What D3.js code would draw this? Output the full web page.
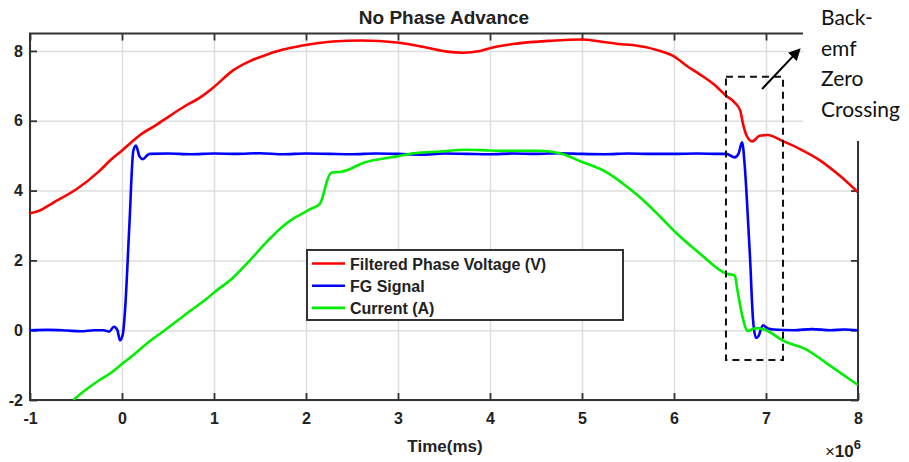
<!DOCTYPE html>
<html>
<head>
<meta charset="utf-8">
<script src="https://cdn.jsdelivr.net/npm/d3@7"></script>
<style>
  body { margin: 0; background: #fff; }
  svg { display: block; font-family: "Liberation Sans", Arial, sans-serif; }
</style>
</head>
<body>
<svg id="chart" width="909" height="462"></svg>
<script>
// ---------------- data (time in units of 10^6 ms) ----------------
const xTicks = [-1, 0, 1, 2, 3, 4, 5, 6, 7, 8]
const yTicks = [-2, 0, 2, 4, 6, 8]

const seriesNames = ['Filtered Phase Voltage (V)', 'FG Signal', 'Current (A)']
const seriesColors = ['#ff0000', '#0000ff', '#00ee00']

const phaseVoltage = [
  [-1, 3.35], [-0.9, 3.42], [-0.75, 3.65], [-0.5, 4.03], [-0.25, 4.55], [-0.13, 4.86],
  [0, 5.15], [0.1, 5.38], [0.2, 5.6], [0.36, 5.86], [0.52, 6.14], [0.66, 6.38],
  [0.85, 6.67], [1.0, 6.97], [1.2, 7.43], [1.39, 7.71], [1.58, 7.9], [1.75, 8.04],
  [1.93, 8.14], [2.29, 8.27], [2.6, 8.3], [2.99, 8.24], [3.31, 8.1], [3.53, 7.98],
  [3.71, 7.95], [3.89, 8.0], [4.03, 8.1], [4.29, 8.21], [4.65, 8.29], [5.0, 8.33],
  [5.2, 8.27], [5.39, 8.2], [5.55, 8.17], [5.85, 8.0], [5.99, 7.86], [6.14, 7.57],
  [6.28, 7.33], [6.43, 7.05], [6.57, 6.71], [6.66, 6.52], [6.72, 6.29], [6.75, 5.91],
  [6.79, 5.57], [6.85, 5.41], [6.93, 5.57], [7.02, 5.59], [7.17, 5.43], [7.37, 5.19],
  [7.59, 4.86], [7.8, 4.43], [8.0, 3.95]
]

const fgSignal = [
  [-1, 0], [-0.8, 0.01], [-0.6, -0.01], [-0.45, -0.03], [-0.3, 0.0], [-0.2, 0.0],
  [-0.14, -0.04], [-0.087, 0.1], [-0.05, 0.0], [-0.022, -0.29], [0.01, -0.1],
  [0.033, 0.57], [0.08, 3.0], [0.123, 5.14], [0.152, 5.29], [0.19, 4.98], [0.228, 4.9],
  [0.27, 5.0], [0.3, 5.05], [0.5, 5.06], [0.75, 5.04], [1, 5.06], [1.25, 5.05],
  [1.5, 5.07], [1.75, 5.04], [2, 5.06], [2.25, 5.05], [2.5, 5.04], [2.75, 5.06],
  [3, 5.05], [3.25, 5.03], [3.5, 5.06], [3.75, 5.05], [4, 5.04], [4.25, 5.06],
  [4.5, 5.05], [4.75, 5.07], [5, 5.05], [5.25, 5.04], [5.5, 5.06], [5.75, 5.05],
  [6, 5.05], [6.25, 5.06], [6.5, 5.05], [6.57, 5.05], [6.66, 4.95], [6.7, 5.05],
  [6.74, 5.38], [6.772, 4.6], [6.793, 3.7], [6.826, 2.1], [6.859, 0.3], [6.891, -0.22],
  [6.915, -0.18], [6.967, 0.14], [7.02, 0.05], [7.08, 0.02], [7.3, 0.0], [7.5, 0.03],
  [7.7, 0.0], [7.85, 0.02], [8, 0.0]
]

const current = [
  [-0.53, -2.0], [-0.4, -1.72], [-0.24, -1.42], [-0.13, -1.24], [0, -0.97], [0.12, -0.72],
  [0.27, -0.38], [0.44, -0.05], [0.6, 0.27], [0.74, 0.55], [0.92, 0.9], [1.0, 1.08],
  [1.2, 1.49], [1.39, 2.0], [1.58, 2.55], [1.75, 2.98], [1.83, 3.14], [1.93, 3.3],
  [2.04, 3.46], [2.15, 3.62], [2.19, 3.9], [2.23, 4.29], [2.28, 4.52], [2.37, 4.53],
  [2.48, 4.62], [2.62, 4.79], [2.8, 4.9], [2.99, 4.98], [3.17, 5.07], [3.46, 5.12],
  [3.75, 5.17], [4.0, 5.15], [4.25, 5.14], [4.51, 5.14], [4.76, 5.07], [4.98, 4.84],
  [5.27, 4.52], [5.45, 4.19], [5.63, 3.81], [5.85, 3.25], [6.03, 2.77], [6.28, 2.2],
  [6.57, 1.62], [6.66, 1.57], [6.69, 1.14], [6.745, 0.38], [6.8, -0.02], [6.89, 0.06],
  [7.0, 0.0], [7.18, -0.29], [7.45, -0.57], [7.66, -0.95], [8.0, -1.57]
]

const series = [phaseVoltage, fgSignal, current]

// dashed box around the zero crossing and the arrow pointing at the note
const zeroBox = { x0: 6.565, x1: 7.185, y0: -0.857, y1: 7.26 }
const arrow = { x0: 6.957, y0: 6.91, x1: 7.359, y1: 8.03 }
const noteLines = ['Back-', 'emf', 'Zero', 'Crossing']

// ---------------- layout ----------------
const plotL = 30, plotR = 858, plotT = 33.5, plotB = 400

const x = d3.scaleLinear().domain([-1, 8]).range([plotL, plotR])
const y = d3.scaleLinear().domain([-2, 8.5]).range([plotB, plotT])

const svg = d3.select('#chart')
const defs = svg.append('defs')

defs.append('clipPath').attr('id', 'plotClip')
  .append('rect')
  .attr('x', plotL).attr('y', plotT)
  .attr('width', plotR - plotL).attr('height', plotB - plotT)

defs.append('marker')
  .attr('id', 'arrowHead')
  .attr('viewBox', '0 0 10 10')
  .attr('refX', 8).attr('refY', 5)
  .attr('markerWidth', 6).attr('markerHeight', 6)
  .attr('markerUnits', 'strokeWidth')
  .attr('orient', 'auto')
  .append('path')
  .attr('d', 'M0,0 L10,5 L0,10 Z')
  .attr('fill', 'black')

//grid
const grid = svg.append('g')
grid.append('g')
  .attr('transform', 'translate(0,' + plotB + ')')
  .call(d3.axisBottom(x).tickValues(xTicks).tickSize(-(plotB - plotT)).tickFormat(''))
grid.append('g')
  .attr('transform', 'translate(' + plotL + ',0)')
  .call(d3.axisLeft(y).tickValues(yTicks).tickSize(-(plotR - plotL)).tickFormat(''))
grid.selectAll('.domain').remove()
grid.selectAll('line').attr('stroke', '#dedede').attr('stroke-width', 1.5)

//axes
const axisStyle = g => {
  g.select('.domain').remove()
  g.selectAll('line').attr('stroke', '#333').attr('stroke-width', 1.8)
  g.selectAll('text')
    .attr('fill', '#222')
    .attr('font-size', 16)
    .attr('font-weight', 'bold')
}
const plain = d => String(d)

svg.append('g')
  .attr('transform', 'translate(0,' + plotB + ')')
  .call(d3.axisBottom(x).tickValues(xTicks).tickSizeInner(-7).tickSizeOuter(0).tickPadding(13).tickFormat(plain))
  .call(axisStyle)

svg.append('g')
  .attr('transform', 'translate(0,' + plotT + ')')
  .call(d3.axisTop(x).tickValues(xTicks).tickSizeInner(-7).tickSizeOuter(0).tickFormat(''))
  .call(axisStyle)

svg.append('g')
  .attr('transform', 'translate(' + plotL + ',0)')
  .call(d3.axisLeft(y).tickValues(yTicks).tickSizeInner(-7).tickSizeOuter(0).tickPadding(7).tickFormat(plain))
  .call(axisStyle)

svg.append('g')
  .attr('transform', 'translate(' + plotR + ',0)')
  .call(d3.axisRight(y).tickValues(yTicks).tickSizeInner(-7).tickSizeOuter(0).tickFormat(''))
  .call(axisStyle)

//frame
svg.append('rect')
  .attr('x', plotL).attr('y', plotT)
  .attr('width', plotR - plotL).attr('height', plotB - plotT)
  .attr('fill', 'none')
  .attr('stroke', '#333')
  .attr('stroke-width', 2)

//lines
const line = d3.line()
  .x(d => x(d[0]))
  .y(d => y(d[1]))
  .curve(d3.curveMonotoneX)

svg.append('g')
  .attr('clip-path', 'url(#plotClip)')
  .selectAll('path')
  .data(series)
  .enter()
  .append('path')
  .attr('d', line)
  .attr('fill', 'none')
  .attr('stroke', (d, i) => seriesColors[i])
  .attr('stroke-width', 2.6)
  .attr('stroke-linejoin', 'round')

//legend
const legend = svg.append('g').attr('transform', 'translate(307,250)')
legend.append('rect')
  .attr('width', 316).attr('height', 70)
  .attr('fill', 'white')
  .attr('stroke', '#333')
  .attr('stroke-width', 2)

const entry = legend.selectAll('g.entry')
  .data(seriesNames)
  .enter()
  .append('g')
  .attr('class', 'entry')
  .attr('transform', (d, i) => 'translate(0,' + (13.5 + i * 22.2) + ')')

entry.append('line')
  .attr('x1', 5).attr('x2', 38)
  .attr('stroke', (d, i) => seriesColors[i])
  .attr('stroke-width', 2.6)

entry.append('text')
  .attr('x', 43).attr('y', 6)
  .attr('font-size', 16)
  .attr('font-weight', 'bold')
  .attr('fill', '#222')
  .text(d => d)

//zero crossing box
svg.append('rect')
  .attr('x', x(zeroBox.x0))
  .attr('y', y(zeroBox.y1))
  .attr('width', x(zeroBox.x1) - x(zeroBox.x0))
  .attr('height', y(zeroBox.y0) - y(zeroBox.y1))
  .attr('fill', 'none')
  .attr('stroke', '#111')
  .attr('stroke-width', 2)
  .attr('stroke-dasharray', '7,5')

svg.append('line')
  .attr('x1', x(arrow.x0)).attr('y1', y(arrow.y0))
  .attr('x2', x(arrow.x1)).attr('y2', y(arrow.y1))
  .attr('stroke', 'black')
  .attr('stroke-width', 2)
  .attr('marker-end', 'url(#arrowHead)')

//note pasted over the top right corner
svg.append('rect')
  .attr('x', 803).attr('y', 0)
  .attr('width', 106).attr('height', 141)
  .attr('fill', 'white')

svg.append('g')
  .selectAll('text')
  .data(noteLines)
  .enter()
  .append('text')
  .attr('x', 821)
  .attr('y', (d, i) => 25 + i * 30.7)
  .attr('font-family', 'Lato, "Open Sans", sans-serif')
  .attr('font-size', 21)
  .attr('fill', '#111')
  .text(d => d)

//title and labels
svg.append('text')
  .attr('x', 444).attr('y', 24)
  .attr('text-anchor', 'middle')
  .attr('font-size', 19)
  .attr('font-weight', 'bold')
  .attr('fill', '#222')
  .text('No Phase Advance')

svg.append('text')
  .attr('x', 445).attr('y', 452)
  .attr('text-anchor', 'middle')
  .attr('font-size', 17)
  .attr('font-weight', 'bold')
  .attr('fill', '#222')
  .text('Time(ms)')

const expo = svg.append('text')
  .attr('x', 861).attr('y', 457)
  .attr('text-anchor', 'end')
  .attr('font-size', 17)
  .attr('font-weight', 'bold')
  .attr('fill', '#222')
expo.append('tspan').attr('font-weight', 'normal').text('×')
expo.append('tspan').text('10')
expo.append('tspan').attr('font-size', 13).attr('dy', -8).text('6')
</script>
</body>
</html>
